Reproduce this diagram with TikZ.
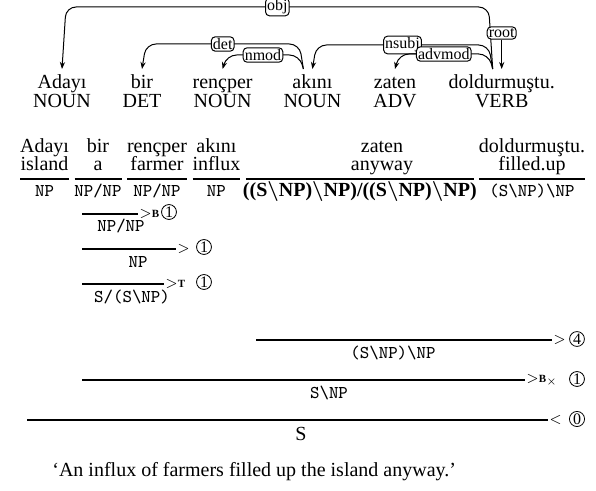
\documentclass[tikz,border=0pt]{standalone}
\usepackage{fontspec}
\setmainfont{Liberation Serif}
\usetikzlibrary{arrows.meta,calc}

\newcommand{\bbs}{{\boldmath$\backslash$}}
\newcommand{\comb}[1]{\textbf{\fontsize{5.5}{6}\selectfont #1}}
% arc from head #1 down to dependent #2, top at #3
\newcommand{\deplink}[4]{%
  \draw[deparc] ($(#1.base)+(-9,-20)$) -- ($(#1.base |- 0,#3)+(-13,0)$)
    -- ($(#2.base |- 0,#3)+(4,0)$) node[deplabel,midway] {#4}
    -- ($(#2.base)+(0,-20)$);}

\begin{document}
\begin{tikzpicture}[x=0.5pt,y=-0.5pt,
  word/.style={anchor=base,inner sep=0pt,font=\normalsize},
  cat/.style={anchor=base,inner sep=0pt,font=\small\ttfamily},
  deparc/.style={line width=0.5pt,rounded corners=5pt,-{Stealth[length=3.5pt,width=2.6pt]}},
  deplabel/.style={draw,line width=0.5pt,fill=white,rounded corners=2pt,inner sep=0.8pt,font=\footnotesize},
  rulebar/.style={line width=0.6pt},
  ruletag/.style={anchor=west,inner sep=0.4pt,font=\scriptsize},
  stepno/.style={circle,draw,line width=0.4pt,inner sep=0.3pt,font=\footnotesize}]
\useasboundingbox (0,0) rectangle (596,491);
% dependency tree
\node[word] (tok1) at (62,89) {Adayı};
\node[word] (tok2) at (142,89) {bir};
\node[word] (tok3) at (222.6,89) {rençper};
\node[word] (tok4) at (312.4,89) {akını};
\node[word] (tok5) at (395,89) {zaten};
\node[word] (tok6) at (501.7,89) {doldurmuştu.};
\node[word] (pos1) at (62,108) {NOUN};
\node[word] (pos2) at (142,108) {DET};
\node[word] (pos3) at (222.6,108) {NOUN};
\node[word] (pos4) at (312.4,108) {NOUN};
\node[word] (pos5) at (395,108) {ADV};
\node[word] (pos6) at (501.7,108) {VERB};
\deplink{tok6}{tok1}{7}{obj}
\deplink{tok4}{tok2}{44}{det}
\deplink{tok4}{tok3}{55}{nmod}
\deplink{tok6}{tok4}{45}{nsubj}
\deplink{tok6}{tok5}{54}{advmod}
\node[deplabel] (rootlab) at (tok6.base |- 0,33) {root};
\draw[deparc] (rootlab) -- ($(tok6.base)+(0,-20)$);
% derivation: words and glosses
\node[word] (wd1) at (44.5,153) {Adayı};
\node[word] (wd2) at (98,153) {bir};
\node[word] (wd3) at (157,153) {rençper};
\node[word] (wd4) at (216.4,153) {akını};
\node[word] (wd5) at (382,153) {zaten};
\node[word] (wd6) at (532,153) {doldurmuştu.};
\node[word] (gl1) at (44.5,171) {island};
\node[word] (gl2) at (98,171) {a};
\node[word] (gl3) at (157,171) {farmer};
\node[word] (gl4) at (216.4,171) {influx};
\node[word] (gl5) at (382,171) {anyway};
\node[word] (gl6) at (532,171) {filled.up};
% lexical categories
\foreach \a/\b in {20/69,74.5/121.5,127/187,192.5/240.3,245.8/473.8,479.3/585.3}
  \draw[rulebar] (\a,179) -- (\b,179);
\node[cat] (ct1) at (44.5,197) {NP};
\node[cat] (ct2) at (98,197) {NP/NP};
\node[cat] (ct3) at (157,197) {NP/NP};
\node[cat] (ct4) at (216.4,197) {NP};
\node[word,font=\bfseries] (ct5) at (359.8,197) {((S\bbs NP)\bbs NP)/((S\bbs NP)\bbs NP)};
\node[cat] (ct6) at (532,197) {(S\textbackslash NP)\textbackslash NP};
% combination steps
\draw[rulebar] (82,214) -- (138,214) node[ruletag] {$>$\comb{B}};
\node[stepno] at (169,212) {1};
\node[cat] (rs1) at (121,232) {NP/NP};
\draw[rulebar] (82,249) -- (176,249) node[ruletag] {$>$};
\node[stepno] at (204,247) {1};
\node[cat] (rs2) at (138,268) {NP};
\draw[rulebar] (82,284) -- (164,284) node[ruletag] {$>$\comb{T}};
\node[stepno] at (204,282) {1};
\node[cat] (rs3) at (132,303) {S/(S\textbackslash NP)};
\draw[rulebar] (256,340) -- (552,340) node[ruletag] {$>$};
\node[stepno] at (577,339) {4};
\node[cat] (rs4) at (393,359) {(S\textbackslash NP)\textbackslash NP};
\draw[rulebar] (82,380) -- (525,380) node[ruletag] {$>$\comb{B}$_{\times}$};
\node[stepno] at (577,379) {1};
\node[cat] (rs5) at (329,399) {S\textbackslash NP};
\draw[rulebar] (27,420) -- (548,420) node[ruletag] {$<$};
\node[stepno] at (577,419) {0};
\node[word] (rs6) at (301,441) {S};
% translation
\node[word,anchor=base west] (trans) at (52,477) {`An influx of farmers filled up the island anyway.'};
\end{tikzpicture}
\end{document}
